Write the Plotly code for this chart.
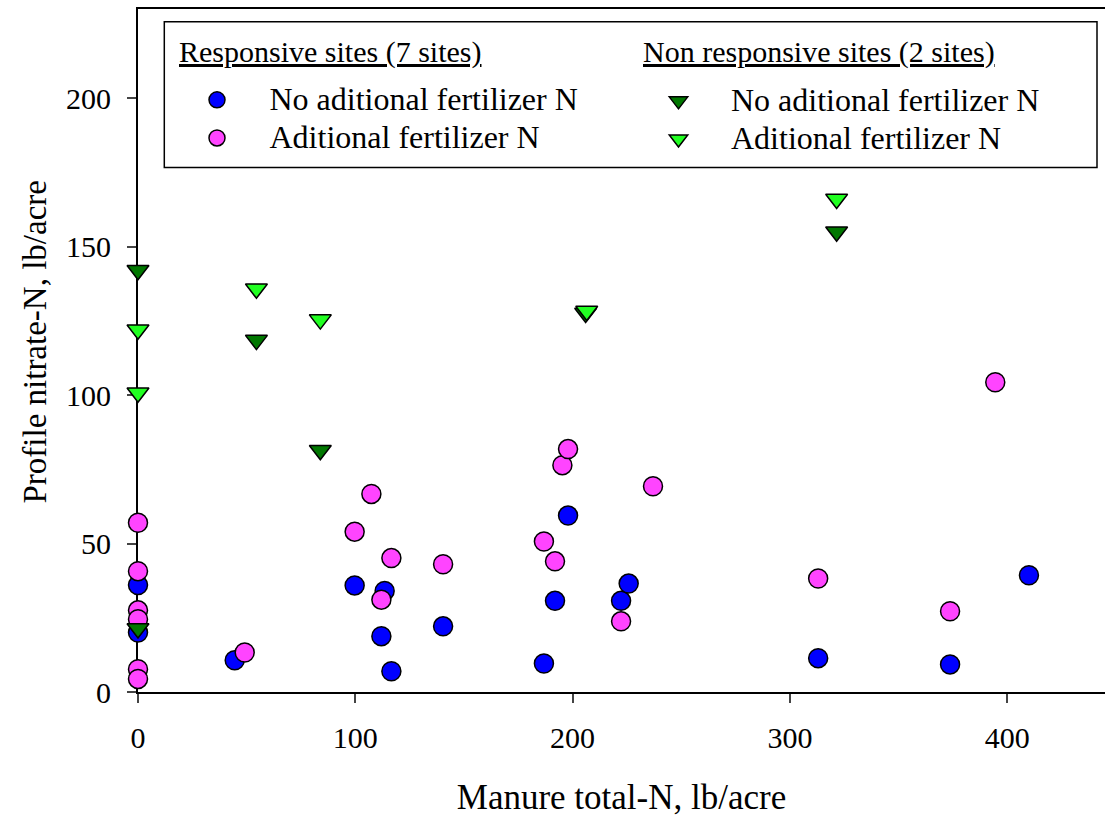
import plotly.graph_objects as go

# Responsive sites - no additional fertilizer N (blue circles)
resp_no_x = [0, 0, 44.5, 99.7, 113.5, 112.0, 116.6, 140.4, 186.8, 191.9, 197.9, 222.3, 225.8, 313.0, 373.7, 410.0]
resp_no_y = [36.0, 20.0, 10.7, 35.9, 34.0, 18.8, 7.0, 22.1, 9.6, 30.7, 59.4, 30.7, 36.5, 11.4, 9.3, 39.3]

# Responsive sites - additional fertilizer N (pink circles)
resp_add_x = [0, 0, 0, 0, 0, 0, 49.1, 99.7, 107.4, 112.0, 116.6, 140.4, 186.8, 191.9, 195.3, 197.9, 222.3, 237.0, 313.0, 373.7, 394.5]
resp_add_y = [57.0, 40.7, 27.5, 24.5, 7.7, 4.4, 13.3, 54.0, 66.7, 31.1, 45.1, 43.0, 50.7, 44.0, 76.4, 81.8, 23.8, 69.3, 38.2, 27.2, 104.3]

# Non responsive sites - no additional fertilizer N (dark green triangles)
nonresp_no_x = [0, 0, 54.5, 83.9, 206.0, 321.5]
nonresp_no_y = [142.0, 21.4, 118.5, 81.4, 127.6, 155.0]

# Non responsive sites - additional fertilizer N (light green triangles)
nonresp_add_x = [0, 0, 54.5, 83.9, 206.5, 321.5]
nonresp_add_y = [122.0, 100.8, 135.8, 125.4, 128.3, 166.0]

x_ticks = [0, 100, 200, 300, 400]
y_ticks = [0, 50, 100, 150, 200]

series_names = ["No aditional fertilizer N", "Aditional fertilizer N"]
group_titles = ["Responsive sites (7 sites)", "Non responsive sites (2 sites)"]

FONT = "Liberation Serif"

fig = go.Figure()

def add(x, y, name, color, symbol, size, legend):
    fig.add_trace(go.Scatter(
        x=x, y=y, mode="markers", legend=legend,
        name='<span style="font-size:32px">%s</span>' % name,
        cliponaxis=False,
        marker=dict(color=color, symbol=symbol, size=size,
                    line=dict(color="black", width=1.5)),
    ))

add(resp_no_x, resp_no_y, series_names[0], "#0000FF", "circle", 19, "legend")
add(resp_add_x, resp_add_y, series_names[1], "#FF44FF", "circle", 19, "legend")
add(nonresp_no_x, nonresp_no_y, series_names[0], "#007700", "triangle-down", 19, "legend2")
add(nonresp_add_x, nonresp_add_y, series_names[1], "#22FF22", "triangle-down", 19, "legend2")

leg_common = dict(yanchor="top", xanchor="left", bgcolor="rgba(0,0,0,0)",
                  itemwidth=95, font=dict(family=FONT, size=27), tracegroupgap=0)

fig.update_layout(
    width=1105, height=817,
    margin=dict(l=138, r=0, t=9, b=123),
    paper_bgcolor="white", plot_bgcolor="white",
    font=dict(family=FONT, size=30, color="black"),
    showlegend=True,
    legend=dict(x=(164.5 - 138) / 967, y=(694 - 76) / 685, **leg_common),
    legend2=dict(x=(626 - 138) / 967, y=(694 - 77) / 685, **leg_common),
    xaxis=dict(
        range=[0, 445], tickvals=x_ticks, ticks="outside", ticklen=9, tickwidth=2,
        showline=True, linecolor="black", linewidth=2, mirror=True,
        showgrid=False, zeroline=False, layer="below traces",
        ticklabelstandoff=9,
        tickfont=dict(family=FONT, size=30),
        title=dict(text="Manure total-N, lb/acre", font=dict(family=FONT, size=35), standoff=38),
    ),
    yaxis=dict(
        range=[0, 230], tickvals=y_ticks, ticks="outside", ticklen=9, tickwidth=2,
        showline=True, linecolor="black", linewidth=2, mirror=False,
        showgrid=False, zeroline=False, layer="below traces",
        ticklabelstandoff=10,
        tickfont=dict(family=FONT, size=30),
    ),
    annotations=[
        dict(text="Profile nitrate-N, lb/acre", textangle=-90, xref="paper", yref="paper",
             x=(35 - 138) / 967, y=(694 - 343.5) / 685, xanchor="center", yanchor="middle",
             showarrow=False, font=dict(family=FONT, size=33)),
        dict(text="<u>%s</u>" % group_titles[0], xref="paper", yref="paper",
             x=(177 - 138) / 967, y=(694 - 52) / 685, xanchor="left", yanchor="middle",
             showarrow=False, font=dict(family=FONT, size=30)),
        dict(text="<u>%s</u>" % group_titles[1], xref="paper", yref="paper",
             x=(641 - 138) / 967, y=(694 - 52) / 685, xanchor="left", yanchor="middle",
             showarrow=False, font=dict(family=FONT, size=30)),
    ],
    shapes=[dict(type="rect", xref="paper", yref="paper",
                 x0=(164.3 - 138) / 967, x1=(1097 - 138) / 967,
                 y0=(694 - 168) / 685, y1=(694 - 21.7) / 685,
                 line=dict(color="black", width=1.5), fillcolor="rgba(0,0,0,0)")],
)

fig.write_html("out.html")
